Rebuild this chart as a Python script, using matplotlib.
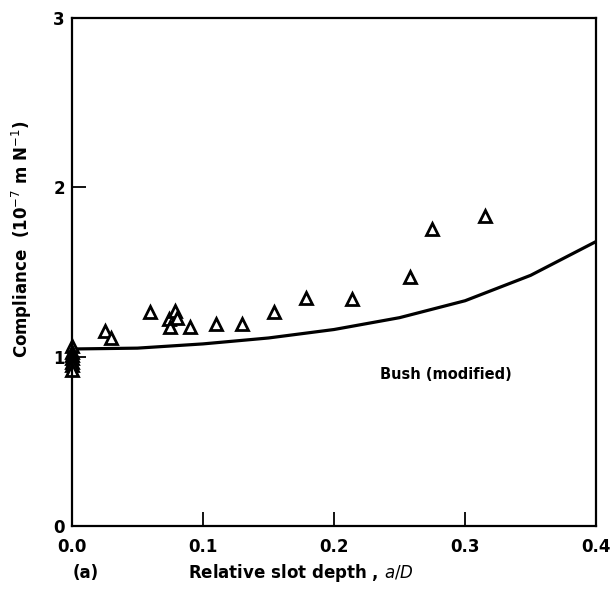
import matplotlib.pyplot as plt
import numpy as np

# measured compliance (triangles)
depth = [0.0, 0.0, 0.0, 0.0, 0.0, 0.0, 0.0,
         0.025, 0.030, 0.060, 0.074, 0.075, 0.079, 0.080, 0.090,
         0.110, 0.130, 0.154, 0.179, 0.214, 0.258, 0.275, 0.315]
compliance = [1.06, 1.03, 1.01, 0.99, 0.97, 0.95, 0.92,
              1.15, 1.11, 1.265, 1.225, 1.175, 1.27, 1.23, 1.175,
              1.195, 1.195, 1.265, 1.345, 1.34, 1.47, 1.755, 1.83]

# Bush (modified) curve
bush_x = [0.0, 0.05, 0.10, 0.15, 0.20, 0.25, 0.30, 0.35, 0.40]
bush_y = [1.045, 1.05, 1.075, 1.11, 1.16, 1.23, 1.33, 1.48, 1.68]

fig = plt.figure(figsize=(6.14, 5.99), dpi=100)
ax = fig.add_axes([0.117, 0.122, 0.854, 0.848])

ax.plot(bush_x, bush_y, 'k-', lw=2.3)
ax.plot(depth, compliance, '^', ms=9, mfc='white', mec='black', mew=2,
        ls='none', clip_on=False)

ax.set_xlim(0, 0.4)
ax.set_ylim(0, 3)
ax.set_xticks([0.0, 0.1, 0.2, 0.3, 0.4])
ax.set_xticklabels(['0.0', '0.1', '0.2', '0.3', '0.4'])
ax.set_yticks([0, 1, 2, 3])
ax.tick_params(direction='in', length=10, width=1.3, labelsize=12,
               top=False, right=False)
ax.tick_params(axis='x', pad=9)
ax.tick_params(axis='y', pad=5)
for lab in ax.get_xticklabels() + ax.get_yticklabels():
    lab.set_fontweight('bold')
for s in ax.spines.values():
    s.set_linewidth(1.6)

ax.text(0.235, 0.865, 'Bush (modified)', fontsize=10.5, fontweight='bold')

fig.text(0.036, 0.6, 'Compliance  (10$^{-7}$ m N$^{-1}$)', fontsize=12,
         fontweight='bold', rotation=90, ha='center', va='center')
fig.text(0.49, 0.035, 'Relative slot depth , $a/D$', fontsize=12,
         fontweight='bold', ha='center')
fig.text(0.14, 0.035, '(a)', fontsize=12, fontweight='bold', ha='center')

fig.savefig('out.png', dpi=100)
